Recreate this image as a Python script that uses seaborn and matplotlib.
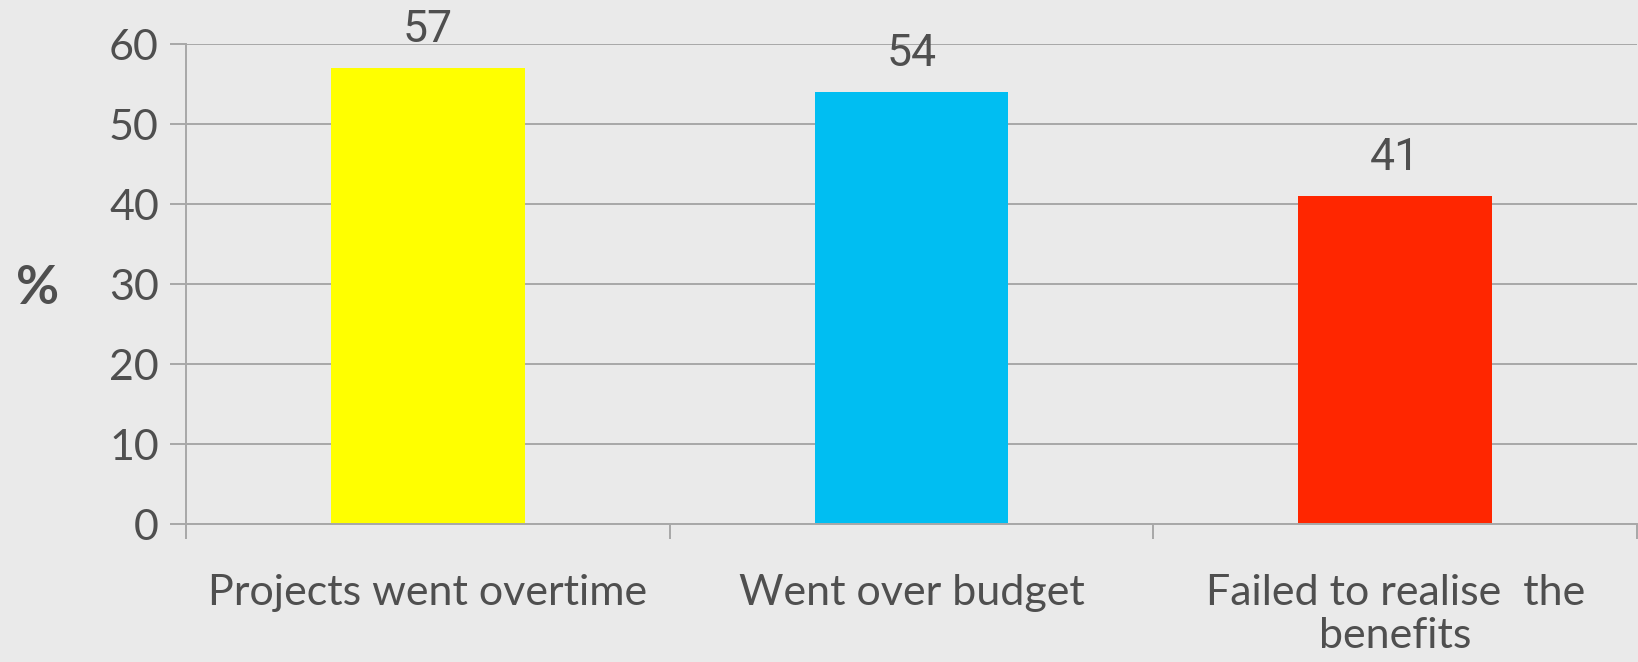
import matplotlib
matplotlib.use("Agg")
import matplotlib.pyplot as plt
import seaborn as sns

# data
categories = ["Projects went overtime", "Went over budget", "Failed to realise  the\nbenefits"]
values = [57, 54, 41]
bar_colors = ["#FFFF00", "#00BEF2", "#FF2600"]
y_ticks = [0, 10, 20, 30, 40, 50, 60]

bg = "#EAEAEA"
grid = "#A8A8A8"
txt = "#4F4F4F"

sns.set_theme(style="whitegrid", rc={
    "axes.facecolor": bg, "figure.facecolor": bg,
    "grid.color": grid, "grid.linewidth": 1.4,
    "axes.edgecolor": grid, "axes.linewidth": 1.4,
})
plt.rcParams["font.family"] = ["Lato", "DejaVu Sans"]

fig = plt.figure(figsize=(16.38, 6.62), dpi=100)
ax = fig.add_axes([186 / 1638, 1 - 524 / 662, 1451 / 1638, 480 / 662])

sns.barplot(x=categories, y=values, hue=categories, palette=bar_colors,
            width=0.4, legend=False, ax=ax, saturation=1, linewidth=0)

ax.set_ylim(0, 60)
ax.set_xlim(-0.5, 2.5)
ax.set_yticks(y_ticks)
ax.grid(axis="x", visible=False)
ax.set_axisbelow(True)
for s in ["top", "right"]:
    ax.spines[s].set_visible(False)

ax.tick_params(axis="y", length=11.5, width=1.4, color=grid, pad=8,
               labelsize=31, labelcolor=txt, left=True)
ax.set_xticks([-0.5, 0.5, 1.5, 2.5], minor=True)
ax.tick_params(axis="x", which="minor", length=11, width=1.4, color=grid, bottom=True)
ax.tick_params(axis="x", which="major", length=0, pad=36, labelsize=31, labelcolor=txt)
for lbl in ax.get_xticklabels():
    lbl.set_linespacing(1.15)
ax.set_xlabel("")
ax.set_ylabel("")
ax.text(-0.102, 0.49, "%", transform=ax.transAxes, ha="center", va="center",
        fontsize=38, fontweight="bold", color=txt)

for i, v in enumerate(values):
    ax.annotate(str(v), (i, v), xytext=(0, 12), textcoords="offset points",
                ha="center", va="bottom", fontsize=32, color=txt,
                family=["Roboto", "DejaVu Sans"])

fig.savefig("out.png", dpi=100, facecolor=bg)
